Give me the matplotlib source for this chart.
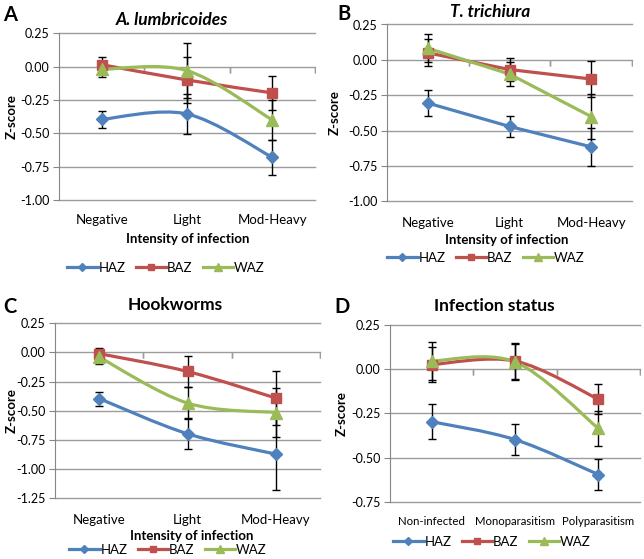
import matplotlib
matplotlib.use("Agg")
import matplotlib.pyplot as plt
from matplotlib.path import Path
from matplotlib.patches import PathPatch
from matplotlib.lines import Line2D

plt.rcParams['font.family'] = ['Lato', 'DejaVu Sans']

# ---- data ----
intensity = ["Negative", "Light", "Mod-Heavy"]
status = ["Non-infected", "Monoparasitism", "Polyparasitism"]
series = ["HAZ", "BAZ", "WAZ"]

# A. lumbricoides
a_haz = [-0.395, -0.355, -0.68]
a_haz_err = [0.065, 0.147, 0.13]
a_baz = [0.015, -0.10, -0.197]
a_baz_err = [0.055, 0.175, 0.125]
a_waz = [-0.02, -0.03, -0.40]
a_waz_err = [0.06, 0.205, 0.148]

# T. trichiura
b_haz = [-0.305, -0.47, -0.614]
b_haz_err = [0.09, 0.073, 0.133]
b_baz = [0.05, -0.068, -0.135]
b_baz_err = [0.095, 0.082, 0.128]
b_waz = [0.082, -0.10, -0.40]
b_waz_err = [0.10, 0.087, 0.16]

# Hookworms
c_haz = [-0.395, -0.697, -0.871]
c_haz_err = [0.06, 0.132, 0.306]
c_baz = [-0.01, -0.163, -0.391]
c_baz_err = [0.045, 0.129, 0.231]
c_waz = [-0.04, -0.434, -0.515]
c_waz_err = [0.06, 0.135, 0.21]

# Infection status
d_haz = [-0.297, -0.398, -0.595]
d_haz_err = [0.10, 0.088, 0.087]
d_baz = [0.025, 0.045, -0.17]
d_baz_err = [0.10, 0.10, 0.085]
d_waz = [0.045, 0.04, -0.335]
d_waz_err = [0.105, 0.10, 0.10]

colors = {"HAZ": "#4F81BD", "BAZ": "#C0504D", "WAZ": "#9BBB59"}
markers = {"HAZ": ("D", 6.5), "BAZ": ("s", 7.5), "WAZ": ("^", 8)}

W, H = 644, 559
fig = plt.figure(figsize=(W / 100, H / 100), dpi=100)


def px_axes(left, top, right, bottom):
    return fig.add_axes([left / W, 1 - bottom / H, (right - left) / W, (bottom - top) / H])


def ftext(x, y, s, **kw):
    fig.text(x / W, 1 - y / H, s, ha='center', va='center', **kw)


def smooth_path(x, y):
    # Excel-style smoothed line: cubic Bezier through the points
    n = len(x)
    verts = [(x[0], y[0])]
    codes = [Path.MOVETO]
    for i in range(n - 1):
        p0 = max(i - 1, 0)
        p3 = min(i + 2, n - 1)
        c1 = (x[i] + (x[i + 1] - x[p0]) / 6, y[i] + (y[i + 1] - y[p0]) / 6)
        c2 = (x[i + 1] - (x[p3] - x[i]) / 6, y[i + 1] - (y[p3] - y[i]) / 6)
        verts += [c1, c2, (x[i + 1], y[i + 1])]
        codes += [Path.CURVE4] * 3
    return Path(verts, codes)


def panel(box, cats, data, yticks, smooth, title, title_xy, italic,
          letter_xy, letter, legend_xy, tick_pad, ylabel_x, xlabel_xy=None,
          cat_size=9.5):
    ax = px_axes(*box)
    x = [1, 2, 3]
    for name, (vals, errs) in zip(series, data):
        c = colors[name]
        if smooth:
            ax.add_patch(PathPatch(smooth_path(x, vals), fill=False, edgecolor=c,
                                   lw=2.3, zorder=3, capstyle='round'))
        else:
            ax.plot(x, vals, color=c, lw=2.3, zorder=3, solid_capstyle='round')
        ax.errorbar(x, vals, yerr=errs, fmt='none', ecolor='black', elinewidth=1,
                    capsize=3, capthick=1, zorder=4)
        m, ms = markers[name]
        ax.plot(x, vals, ls='none', marker=m, ms=ms, color=c, zorder=5)

    ax.set_xlim(0.5, 3.5)
    ax.set_ylim(yticks[-1], yticks[0])
    for t in yticks:
        ax.axhline(t, color='#9C9C9C', lw=1, zorder=1, clip_on=False)
    # category axis crossing at zero
    for xb in [1.5, 2.5, 3.5]:
        ax.plot([xb, xb], [0, 0], marker=3, ms=4, color='#9C9C9C', mew=1, zorder=1)
    ax.set_yticks(yticks)
    ax.set_yticklabels([f"{t:.2f}" for t in yticks], fontsize=9)
    ax.set_xticks(x)
    ax.set_xticklabels(cats, fontsize=cat_size)
    ax.tick_params(axis='x', length=0, pad=tick_pad)
    ax.tick_params(axis='y', length=4, color='#868686', direction='out', pad=3)
    for s in ['top', 'right', 'bottom']:
        ax.spines[s].set_visible(False)
    ax.spines['left'].set_color('#868686')

    mid = (box[1] + box[3]) / 2
    ftext(ylabel_x, mid, "Z-score", fontsize=9.5, fontweight='bold', rotation=90)
    if xlabel_xy:
        ftext(xlabel_xy[0], xlabel_xy[1], "Intensity of infection",
              fontsize=9.5, fontweight='bold')
    ftext(title_xy[0], title_xy[1], title, fontsize=12.5, fontweight='bold',
          style='italic' if italic else 'normal')
    ftext(letter_xy[0], letter_xy[1], letter, fontsize=14.5, fontweight='bold')

    handles = [Line2D([], [], color=colors[n], lw=2.3, marker=markers[n][0],
                      ms=markers[n][1] - 2.5) for n in series]
    fig.legend(handles, series, loc='center', ncol=3, frameon=False, fontsize=9.5,
               handlelength=2.3, handletextpad=0.05, columnspacing=0.8,
               bbox_to_anchor=(legend_xy[0] / W, 1 - legend_xy[1] / H))
    return ax


panel((59, 33.3, 315, 200), intensity,
      [(a_haz, a_haz_err), (a_baz, a_baz_err), (a_waz, a_waz_err)],
      [0.25, 0.0, -0.25, -0.5, -0.75, -1.0], True,
      "A. lumbricoides", (172, 20), True, (10, 15), "A", (166, 268), 10,
      12, (188, 239))

panel((387, 24.5, 632, 201.5), intensity,
      [(b_haz, b_haz_err), (b_baz, b_baz_err), (b_waz, b_waz_err)],
      [0.25, 0.0, -0.25, -0.5, -0.75, -1.0], False,
      "T. trichiura", (490, 12), True, (344, 14), "B", (486, 258), 11,
      335, (507, 240))

panel((55, 323.3, 320, 498.3), intensity,
      [(c_haz, c_haz_err), (c_baz, c_baz_err), (c_waz, c_waz_err)],
      [0.25, 0.0, -0.25, -0.5, -0.75, -1.0, -1.25], True,
      "Hookworms", (175, 305), False, (10, 307), "C", (168, 550), 11,
      12, (192, 536))

panel((390, 324.7, 640, 502), status,
      [(d_haz, d_haz_err), (d_baz, d_baz_err), (d_waz, d_waz_err)],
      [0.25, 0.0, -0.25, -0.5, -0.75], True,
      "Infection status", (494, 306), False, (342, 307), "D", (492, 542), 10,
      342, cat_size=8.2)

fig.savefig("out.png", dpi=100)
